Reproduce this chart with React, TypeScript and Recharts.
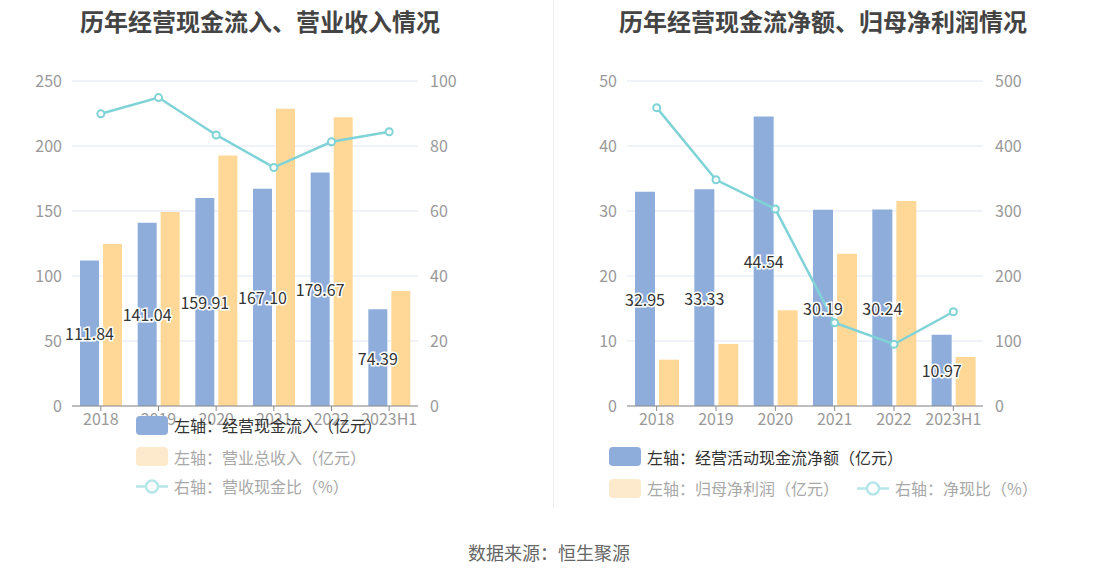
import React from 'react';
import { ComposedChart, Bar, Line, XAxis, YAxis, CartesianGrid, LabelList, Legend } from 'recharts';

const years = ['2018', '2019', '2020', '2021', '2022', '2023H1'];

// left chart
const cashInflow = [111.84, 141.04, 159.91, 167.1, 179.67, 74.39];
const revenue = [124.6, 149.2, 192.6, 228.7, 222.1, 88.5];
const cashRatio = [89.9, 94.9, 83.4, 73.4, 81.3, 84.4];
const leftTicksA = [0, 50, 100, 150, 200, 250];
const rightTicksA = [0, 20, 40, 60, 80, 100];

// right chart
const netCashFlow = [32.95, 33.33, 44.54, 30.19, 30.24, 10.97];
const netProfit = [7.13, 9.54, 14.72, 23.44, 31.54, 7.54];
const netCashRatio = [459, 348, 303, 128, 95, 145];
const leftTicksB = [0, 10, 20, 30, 40, 50];
const rightTicksB = [0, 100, 200, 300, 400, 500];

const BLUE = '#8eaddb';
const ORANGE = '#ffd897';
const CYAN = '#7fd3d7';
const FONT = '"Noto Sans CJK SC", "Noto Sans", sans-serif';

const dataA = years.map((year, i) => ({ year, a: cashInflow[i], b: revenue[i], r: cashRatio[i] }));
const dataB = years.map((year, i) => ({ year, a: netCashFlow[i], b: netProfit[i], r: netCashRatio[i] }));

const BarLabel = (props: any) => {
  const { x, y, width, height, value } = props;
  return (
    <text
      x={x + width / 2}
      y={y + height / 2}
      textAnchor="middle"
      dominantBaseline="central"
      fontSize={16}
      fill="#333"
      stroke="#fff"
      strokeWidth={3}
      paintOrder="stroke"
      style={{ fontFamily: FONT }}
    >
      {Number(value).toFixed(2)}
    </text>
  );
};

type LegendItem = { kind: 'rect' | 'line'; color: string; text: string; textColor: string; x: number; y: number };

const legendContent = (items: LegendItem[]) => () => (
  <div style={{ position: 'relative', width: '100%', height: '100%', fontFamily: FONT }}>
    {items.map((it, i) => (
      <div key={i} style={{ position: 'absolute', left: it.x, top: it.y - 12, height: 24, display: 'flex', alignItems: 'center' }}>
        {it.kind === 'rect' ? (
          <div style={{ width: 32, height: 19, borderRadius: 4, background: it.color }} />
        ) : (
          <svg width={32} height={19}>
            <line x1={0} y1={9.5} x2={32} y2={9.5} stroke={it.color} strokeWidth={2.5} />
            <circle cx={16} cy={9.5} r={6} fill="#fff" stroke={it.color} strokeWidth={2.5} />
          </svg>
        )}
        <span style={{ marginLeft: 6, fontSize: 16, color: it.textColor, whiteSpace: 'nowrap' }}>{it.text}</span>
      </div>
    ))}
  </div>
);

const legendA: LegendItem[] = [
  { kind: 'rect', color: BLUE, text: '左轴：经营现金流入（亿元）', textColor: '#333', x: 136, y: 425 },
  { kind: 'rect', color: '#fde9cb', text: '左轴：营业总收入（亿元）', textColor: '#a8a8a8', x: 136, y: 456.5 },
  { kind: 'line', color: '#b7e6e9', text: '右轴：营收现金比（%）', textColor: '#a8a8a8', x: 136, y: 486 },
];

const legendB: LegendItem[] = [
  { kind: 'rect', color: BLUE, text: '左轴：经营活动现金流净额（亿元）', textColor: '#333', x: 57, y: 456.5 },
  { kind: 'rect', color: '#fde9cb', text: '左轴：归母净利润（亿元）', textColor: '#a8a8a8', x: 57, y: 488 },
  { kind: 'line', color: '#b7e6e9', text: '右轴：净现比（%）', textColor: '#a8a8a8', x: 305, y: 488 },
];

const axisTick = { fill: '#999', fontSize: 16 };

const PanelChart = (p: {
  data: any[];
  width: number;
  margin: any;
  leftWidth: number;
  leftTicks: number[];
  rightTicks: number[];
  barSize: number;
  legend: LegendItem[];
}) => (
  <ComposedChart width={p.width} height={577} data={p.data} margin={p.margin}>
    <CartesianGrid horizontal vertical={false} stroke="#e0e6f1" yAxisId="left" />
    <XAxis
      dataKey="year"
      interval={0}
      height={30}
      tick={axisTick}
      tickSize={5}
      tickMargin={3}
      axisLine={{ stroke: '#8a8a8a' }}
      tickLine={{ stroke: '#8a8a8a' }}
    />
    <YAxis
      yAxisId="left"
      width={p.leftWidth}
      domain={[p.leftTicks[0], p.leftTicks[p.leftTicks.length - 1]]}
      ticks={p.leftTicks}
      axisLine={false}
      tickLine={false}
      tickSize={0}
      tickMargin={10}
      tick={axisTick}
    />
    <YAxis
      yAxisId="right"
      orientation="right"
      width={60}
      domain={[p.rightTicks[0], p.rightTicks[p.rightTicks.length - 1]]}
      ticks={p.rightTicks}
      axisLine={false}
      tickLine={false}
      tickSize={0}
      tickMargin={12}
      tick={axisTick}
    />
    <Legend
      layout="vertical"
      align="center"
      verticalAlign="middle"
      wrapperStyle={{ left: 0, top: 0, width: p.width, height: 577, pointerEvents: 'none' }}
      content={legendContent(p.legend)}
    />
    <Bar yAxisId="left" dataKey="a" fill={BLUE} barSize={p.barSize} isAnimationActive={false}>
      <LabelList dataKey="a" content={BarLabel} />
    </Bar>
    <Bar yAxisId="left" dataKey="b" fill={ORANGE} barSize={p.barSize} isAnimationActive={false} />
    <Line
      yAxisId="right"
      dataKey="r"
      stroke={CYAN}
      strokeWidth={2.5}
      dot={{ r: 3.5, fill: '#fff', stroke: CYAN, strokeWidth: 2 }}
      isAnimationActive={false}
    />
  </ComposedChart>
);

const titleStyle: React.CSSProperties = {
  position: 'absolute',
  top: 3,
  fontSize: 24,
  fontWeight: 'bold',
  color: '#444',
  textAlign: 'center',
  whiteSpace: 'nowrap',
};

export default function App() {
  return (
    <div style={{ position: 'absolute', left: 0, top: 0, width: 1098, height: 577, background: '#fff', fontFamily: FONT, overflow: 'hidden' }}>
      <div style={{ ...titleStyle, left: 0, width: 520 }}>历年经营现金流入、营业收入情况</div>
      <div style={{ ...titleStyle, left: 553, width: 540 }}>历年经营现金流净额、归母净利润情况</div>
      <div style={{ position: 'absolute', left: 553, top: 0, width: 1, height: 508, background: '#eeeeee' }} />
      <div style={{ position: 'absolute', left: 0, top: 0 }}>
        <PanelChart
          data={dataA}
          width={552}
          margin={{ top: 81, right: 74, bottom: 141, left: 0 }}
          leftWidth={72}
          leftTicks={leftTicksA}
          rightTicks={rightTicksA}
          barSize={19}
          legend={legendA}
        />
      </div>
      <div style={{ position: 'absolute', left: 552, top: 0 }}>
        <PanelChart
          data={dataB}
          width={546}
          margin={{ top: 81, right: 55, bottom: 141, left: 0 }}
          leftWidth={75}
          leftTicks={leftTicksB}
          rightTicks={rightTicksB}
          barSize={20}
          legend={legendB}
        />
      </div>
      <div style={{ position: 'absolute', left: 0, width: 1098, top: 539, textAlign: 'center', fontSize: 18, color: '#666' }}>
        数据来源：恒生聚源
      </div>
    </div>
  );
}
